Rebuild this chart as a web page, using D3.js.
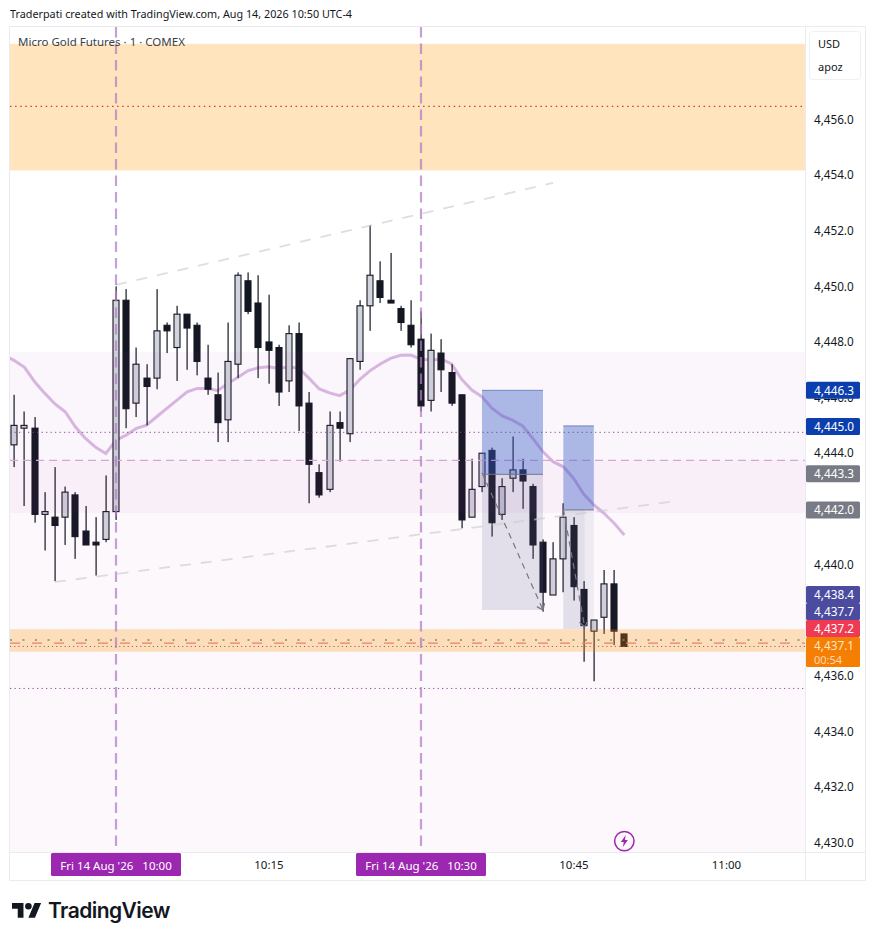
<!DOCTYPE html>
<html>
<head>
<meta charset="utf-8">
<script src="https://cdn.jsdelivr.net/npm/d3@7"></script>
<style>
  html, body { margin: 0; padding: 0; background: #fff; }
  svg { display: block; }
  text { font-family: "Noto Sans", sans-serif; }
</style>
</head>
<body>
<div id="chart"></div>
<script>
// minutes relative to 10:00, one bar per minute
const minutes = d3.range(-10, 51)
const open = [4444.3,4444.9,4444.9,4441.8,4441.7,4441.7,4442.5,4441.2,4440.8,4440.9,
  4441.9,4449.5,4445.8,4446.7,4446.7,4448.6,4447.8,4449.0,4448.6,4446.7,4446.1,
  4445.2,4447.2,4450.2,4449.4,4448.0,4447.8,4446.6,4448.3,4445.8,4443.3,
  4442.7,4445.1,4444.7,4447.3,4449.3,4450.2,4449.5,4449.2,4448.6,4448.1,
  4445.9,4447.6,4446.9,4446.1,4441.7,4442.8,4444.1,4441.8,4443.1,4443.4,
  4442.8,4440.8,4438.9,4440.2,4441.4,4439.1,4437.6,4438.1,4439.3,4437.5]
const high = [4446.1,4445.5,4445.3,4442.6,4443.5,4442.8,4442.6,4442.1,4441.7,4443.2,
  4450.0,4449.9,4447.8,4447.2,4449.9,4448.7,4449.3,4449.0,4448.7,4447.9,4446.9,
  4448.7,4450.5,4450.5,4450.4,4449.7,4447.9,4448.6,4448.7,4446.2,4443.6,
  4445.5,4445.5,4447.4,4449.5,4452.2,4450.9,4451.2,4449.3,4449.5,4449.1,
  4448.3,4448.1,4447.2,4446.1,4443.8,4444.0,4444.2,4443.1,4444.6,4443.8,
  4442.9,4440.9,4440.8,4442.2,4441.7,4439.4,4438.0,4439.8,4439.8,4437.5]
const low = [4443.5,4442.1,4441.5,4440.5,4439.4,4440.7,4440.2,4440.7,4439.6,4440.8,
  4441.6,4444.9,4445.3,4445.0,4446.3,4447.6,4446.6,4447.0,4446.8,4446.1,4444.4,
  4444.4,4446.7,4449.0,4446.7,4446.5,4445.7,4446.2,4444.8,4442.2,4442.4,
  4442.6,4443.7,4444.4,4447.0,4448.4,4449.4,4449.4,4448.4,4447.8,4445.5,
  4445.5,4446.2,4445.7,4441.3,4441.7,4442.6,4441.0,4441.6,4442.6,4442.0,
  4440.2,4438.3,4438.9,4439.0,4438.7,4436.5,4435.8,4437.5,4437.1,4437.05]
const close = [4445.0,4445.0,4441.8,4441.9,4441.4,4442.6,4441.0,4440.7,4440.7,4441.9,
  4449.5,4445.6,4447.2,4446.4,4448.4,4448.4,4449.0,4448.5,4447.3,4446.3,4445.1,
  4447.3,4450.4,4449.1,4447.8,4447.7,4446.2,4448.3,4445.7,4443.6,4442.5,
  4445.0,4444.9,4447.4,4449.3,4450.4,4449.6,4449.4,4448.7,4447.9,4445.7,
  4447.7,4447.0,4445.8,4441.6,4442.7,4444.0,4441.5,4442.8,4443.4,4443.0,
  4440.7,4439.0,4440.2,4441.7,4439.2,4437.8,4438.0,4439.3,4437.6,4437.05]

// moving average, starts one bar before the first candle
const maMinutes = d3.range(-11, 51)
const ma = [4447.53,4447.33,4447.09,4446.57,4446.15,4445.77,4445.49,4444.95,4444.53,4444.21,4443.99,
  4444.47,4444.65,4444.89,4445.01,4445.31,4445.61,4445.91,4446.21,4446.33,4446.33,4446.25,
  4446.51,4446.73,4446.97,4447.07,4447.11,4447.05,4447.11,4447.05,4446.69,4446.31,
  4446.17,4446.07,4446.27,4446.66,4446.97,4447.21,4447.41,4447.52,4447.53,4447.38,
  4447.35,4447.39,4447.21,4446.66,4446.27,4446.03,4445.61,4445.34,4445.19,4444.98,
  4444.53,4444.05,4443.69,4443.51,4443.1,4442.53,4442.14,4441.84,4441.48,4441.06]

const priceTicks = [4456,4454,4452,4450,4448,4446,4444,4442,4440,4438,4436,4434,4432,4430]
const timeTicks = [15, 45, 60]
const timeTickLabels = ['10:15', '10:45', '11:00']
const timeTags = [0, 30]
const timeTagLabels = ["Fri 14 Aug '26   10:00", "Fri 14 Aug '26   10:30"]

// price zones
const orangeBands = [[4458.72, 4454.17], [4437.67, 4436.86]]
const purpleBands = [[4447.64, 4441.85], [4443.75, 4429.6]]
const dottedPurple = [4444.75, 4435.54]
const dashedPurple = [4443.74]
const topRedDotted = [4456.47]
const greenDotted = [4437.28]
const redDashed = [4437.17]
const orangeDotted = [4437.05]
const vLines = [0, 30]

// long position boxes: start, end, top, middle, bottom
const boxes = [[36, 42, 4446.26, 4443.24, 4438.36], [44, 47, 4444.98, 4441.96, 4437.68]]
const extraBoxes = [[44, 46.1, 4441.96, 4437.68]]

// trend lines [minute, price]
const channelLines = [[[0, 4450.05], [43, 4453.72]], [[-6, 4439.37], [55.2, 4442.28]]]
const arrows = [[[36, 4443.3], [42, 4438.36]], [[44, 4442.0], [46.1, 4437.75]]]

// labels on the price scale, top to bottom
const tagValues = [4446.26, 4444.96, 4443.26, 4441.96, 4438.36, 4437.68, 4437.2, 4437.1]
const tagColors = ['#0b3fae', '#0b3fae', '#787b86', '#787b86', '#4b4c9f', '#4b4c9f', '#ee3a52', '#f57f05']
const countdown = '00:54'

const width = 875, height = 941
const plot = {left: 10, right: 805, top: 27, bottom: 852}
const frameRight = 865, frameBottom = 880

const x = d3.scaleLinear().domain([0, 60]).range([116, 726])
const y = d3.scaleLinear().domain([4456, 4430]).range([119.5, 842.5])
const fmt = d3.format(',.1f')

const svg = d3.select('#chart').append('svg')
  .attr('width', width).attr('height', height)

svg.append('text').attr('x', 10).attr('y', 18)
  .attr('font-size', 10.8).attr('fill', '#131722')
  .text('Traderpati created with TradingView.com, Aug 14, 2026 10:50 UTC-4')

svg.append('clipPath').attr('id', 'plot').append('rect')
  .attr('x', plot.left).attr('y', plot.top)
  .attr('width', plot.right - plot.left).attr('height', plot.bottom - plot.top)

const g = svg.append('g').attr('clip-path', 'url(#plot)')

// ma sits under the candles
g.append('path')
  .datum(ma)
  .attr('fill', 'none')
  .attr('stroke', '#b273c4').attr('stroke-opacity', 0.48).attr('stroke-width', 3)
  .attr('d', d3.line().x((d, i) => x(maMinutes[i])).y(d => y(d)))

const candles = g.selectAll('.candle').data(minutes).join('g').attr('class', 'candle')
candles.append('rect')
  .attr('x', d => Math.round(x(d)) - 0.5).attr('width', 1.2)
  .attr('y', (d, i) => y(high[i]))
  .attr('height', (d, i) => y(low[i]) - y(high[i]))
  .attr('fill', '#131722')
candles.append('rect')
  .attr('x', d => Math.round(x(d)) - 3)
  .attr('width', 6)
  .attr('y', (d, i) => y(Math.max(open[i], close[i])))
  .attr('height', (d, i) => Math.abs(y(open[i]) - y(close[i])))
  .attr('fill', (d, i) => close[i] >= open[i] ? '#d1d4dc' : '#131722')
  .attr('stroke', '#131722').attr('stroke-width', 1.1)

// zones are translucent and go over the candles
g.selectAll('.orange').data(orangeBands).join('rect').attr('class', 'orange')
  .attr('x', plot.left).attr('width', plot.right - plot.left)
  .attr('y', d => y(d[0])).attr('height', d => y(d[1]) - y(d[0]))
  .attr('fill', '#ff9800').attr('fill-opacity', 0.26)
g.selectAll('.purple').data(purpleBands).join('rect').attr('class', 'purple')
  .attr('x', plot.left).attr('width', plot.right - plot.left)
  .attr('y', d => y(d[0])).attr('height', d => y(d[1]) - y(d[0]))
  .attr('fill', '#9c2798').attr('fill-opacity', (d, i) => i == 0 ? 0.045 : 0.03)

function hlines(values, color, w, dash, op) {
  g.selectAll(null).data(values).join('line')
    .attr('x1', plot.left).attr('x2', plot.right)
    .attr('y1', d => y(d)).attr('y2', d => y(d))
    .attr('stroke', color).attr('stroke-width', w)
    .attr('stroke-dasharray', dash).attr('stroke-opacity', op)
}
hlines(dottedPurple, '#8e3f99', 1, '1.3 3.2', 0.9)
hlines(dashedPurple, '#d5a8d0', 1.1, '8 5', 1)
hlines(topRedDotted, '#c8442c', 1.3, '1.5 3.6', 1)
hlines(greenDotted, '#6d9a55', 1.4, '2 10.5', 1)
hlines(redDashed, '#ee8160', 1.2, '10 12', 1)
hlines(orangeDotted, '#a2683a', 1, '1.2 3', 1)

// box top part blue, lower part grey
const boxG = g.selectAll('.box').data(boxes).join('g').attr('class', 'box')
boxG.append('rect')
  .attr('x', d => x(d[0])).attr('width', d => x(d[1]) - x(d[0]))
  .attr('y', d => y(d[2])).attr('height', d => y(d[3]) - y(d[2]))
  .attr('fill', '#3459c5').attr('fill-opacity', 0.4)
boxG.append('rect')
  .attr('x', d => x(d[0])).attr('width', d => x(d[1]) - x(d[0]))
  .attr('y', d => y(d[3])).attr('height', d => y(d[4]) - y(d[3]))
  .attr('fill', '#5f5f90').attr('fill-opacity', (d, i) => i == 0 ? 0.16 : 0.08)
boxG.append('line')
  .attr('x1', d => x(d[0])).attr('x2', d => x(d[1]))
  .attr('y1', d => y(d[2])).attr('y2', d => y(d[2]))
  .attr('stroke', '#6f86c0').attr('stroke-width', 1)
boxG.append('line')
  .attr('x1', d => x(d[0])).attr('x2', d => x(d[1]))
  .attr('y1', d => y(d[3])).attr('y2', d => y(d[3]))
  .attr('stroke', '#70788c').attr('stroke-width', 1)
g.selectAll('.box2').data(extraBoxes).join('rect').attr('class', 'box2')
  .attr('x', d => x(d[0])).attr('width', d => x(d[1]) - x(d[0]))
  .attr('y', d => y(d[2])).attr('height', d => y(d[3]) - y(d[2]))
  .attr('fill', '#5f5f90').attr('fill-opacity', 0.09)

// trend lines
const seg = d3.line().x(d => x(d[0])).y(d => y(d[1]))
g.selectAll('.channel').data(channelLines).join('path').attr('class', 'channel')
  .attr('d', seg).attr('fill', 'none')
  .attr('stroke', '#c9c9d0').attr('stroke-opacity', 0.62).attr('stroke-width', 1.8)
  .attr('stroke-dasharray', '11 10')
const arrowG = g.selectAll('.arrow').data(arrows).join('g').attr('class', 'arrow')
arrowG.append('path').attr('d', seg).attr('fill', 'none')
  .attr('stroke', '#77777f').attr('stroke-width', 1.2).attr('stroke-dasharray', '6 5')
arrowG.append('path').attr('fill', 'none')
  .attr('stroke', '#77777f').attr('stroke-width', 1.2)
  .attr('d', d => {
    const x0 = x(d[0][0]), y0 = y(d[0][1]), x1 = x(d[1][0]), y1 = y(d[1][1])
    const a = Math.atan2(y1 - y0, x1 - x0), r = 7
    return d3.line()([
      [x1 + r * Math.cos(a + 2.5), y1 + r * Math.sin(a + 2.5)],
      [x1, y1],
      [x1 + r * Math.cos(a - 2.5), y1 + r * Math.sin(a - 2.5)]
    ])
  })

// session lines
g.selectAll('.vline').data(vLines).join('line').attr('class', 'vline')
  .attr('x1', d => x(d)).attr('x2', d => x(d))
  .attr('y1', plot.top).attr('y2', plot.bottom)
  .attr('stroke', '#b27cc4').attr('stroke-opacity', 0.72).attr('stroke-width', 2.2)
  .attr('stroke-dasharray', '10.5 6')

g.append('text').attr('x', 18).attr('y', 46)
  .attr('font-size', 11.5).attr('fill', '#3a3e4a')
  .text('Micro Gold Futures · 1 · COMEX')

// frame
const frameColor = '#e9ebf0'
svg.append('rect').attr('x', plot.left - 0.5).attr('y', plot.top - 0.5)
  .attr('width', frameRight - plot.left + 1).attr('height', frameBottom - plot.top + 1)
  .attr('fill', 'none').attr('stroke', frameColor)
svg.append('line').attr('x1', plot.right + 0.5).attr('x2', plot.right + 0.5)
  .attr('y1', plot.top).attr('y2', frameBottom).attr('stroke', frameColor)
svg.append('line').attr('x1', plot.left).attr('x2', frameRight)
  .attr('y1', plot.bottom + 0.5).attr('y2', plot.bottom + 0.5).attr('stroke', frameColor)

// price axis
const yAxis = d3.axisRight(y).tickValues(priceTicks).tickFormat(fmt).tickSize(0).tickPadding(9)
const yG = svg.append('g').attr('transform', `translate(${plot.right},0)`).call(yAxis)
yG.select('.domain').remove()
yG.selectAll('text').attr('font-size', 11.7).attr('fill', '#131722')
  .style('font-family', '"Noto Sans", sans-serif')

// currency / unit button
svg.append('rect').attr('x', 809.5).attr('y', 31.5).attr('width', 51).attr('height', 48).attr('rx', 3)
  .attr('fill', '#fff').attr('stroke', '#eef0f3')
svg.append('text').attr('x', 818).attr('y', 48).attr('font-size', 11).attr('fill', '#131722').text('USD')
svg.append('text').attr('x', 818).attr('y', 71).attr('font-size', 11).attr('fill', '#131722').text('apoz')

// time axis
const xAxis = d3.axisBottom(x).tickValues(timeTicks)
  .tickFormat((d, i) => timeTickLabels[i]).tickSize(0).tickPadding(9)
const xG = svg.append('g').attr('transform', `translate(0,${plot.bottom})`).call(xAxis)
xG.select('.domain').remove()
xG.selectAll('text').attr('font-size', 11.5).attr('fill', '#131722')
  .style('font-family', '"Noto Sans", sans-serif')

const timeTagG = svg.selectAll('.timetag').data(timeTags).join('g').attr('class', 'timetag')
timeTagG.append('rect')
  .attr('x', d => x(d) - 65).attr('y', plot.bottom + 1).attr('width', 130).attr('height', 23).attr('rx', 1.5)
  .attr('fill', '#9c27b0')
timeTagG.append('text')
  .attr('x', d => x(d)).attr('y', plot.bottom + 18).attr('text-anchor', 'middle')
  .attr('font-size', 11.5).attr('fill', '#fff').style('white-space', 'pre')
  .text((d, i) => timeTagLabels[i])

// price tags, pushed upward when they would overlap
const tagH = 17
const tagY = tagValues.map(v => y(v))
tagY[tagY.length - 1] = y(tagValues[tagValues.length - 1]) + 0.5
for (let i = tagY.length - 2; i >= 0; i--) {
  tagY[i] = Math.min(tagY[i], tagY[i + 1] - tagH)
}
const tagG = svg.selectAll('.tag').data(tagValues).join('g').attr('class', 'tag')
tagG.append('rect')
  .attr('x', plot.right + 1).attr('width', 54)
  .attr('y', (d, i) => tagY[i] - tagH / 2)
  .attr('height', (d, i) => i == tagValues.length - 1 ? tagH + 13 : tagH)
  .attr('rx', 1.5)
  .attr('fill', (d, i) => tagColors[i])
tagG.append('text')
  .attr('x', plot.right + 9).attr('y', (d, i) => tagY[i] + 4.5)
  .attr('font-size', 11.8).attr('fill', (d, i) => i == tagValues.length - 1 ? '#ffe3c2' : '#fff')
  .text(d => fmt(d))
svg.append('text')
  .attr('x', plot.right + 9).attr('y', tagY[tagY.length - 1] + 18)
  .attr('font-size', 11).attr('fill', '#ffd9ad')
  .text(countdown)

// flash icon at the last bar
const flash = svg.append('g').attr('transform', `translate(${x(50)},${y(4430.05)})`)
flash.append('circle').attr('r', 9.7).attr('fill', 'none').attr('stroke', '#9c27b0').attr('stroke-width', 1.5)
flash.append('path').attr('d', 'M1.5 -6 L-3.5 1 L-0.5 1 L-1.5 6 L3.5 -1 L0.5 -1 Z').attr('fill', '#9c27b0')

// logo
const logo = svg.append('g').attr('transform', 'translate(12,899.7) scale(0.82)').attr('fill', '#131722')
logo.append('path').attr('d', 'M14 22H7V11H0V4h14v18zM28 22h-8l7.5-18h8L28 22z')
logo.append('circle').attr('cx', 20).attr('cy', 8).attr('r', 4)
svg.append('text').attr('x', 48).attr('y', 917.5)
  .attr('font-size', 21).attr('font-weight', 600).attr('fill', '#131722')
  .style('font-family', 'Inter, sans-serif').attr('letter-spacing', -0.55)
  .text('TradingView')
</script>
</body>
</html>
